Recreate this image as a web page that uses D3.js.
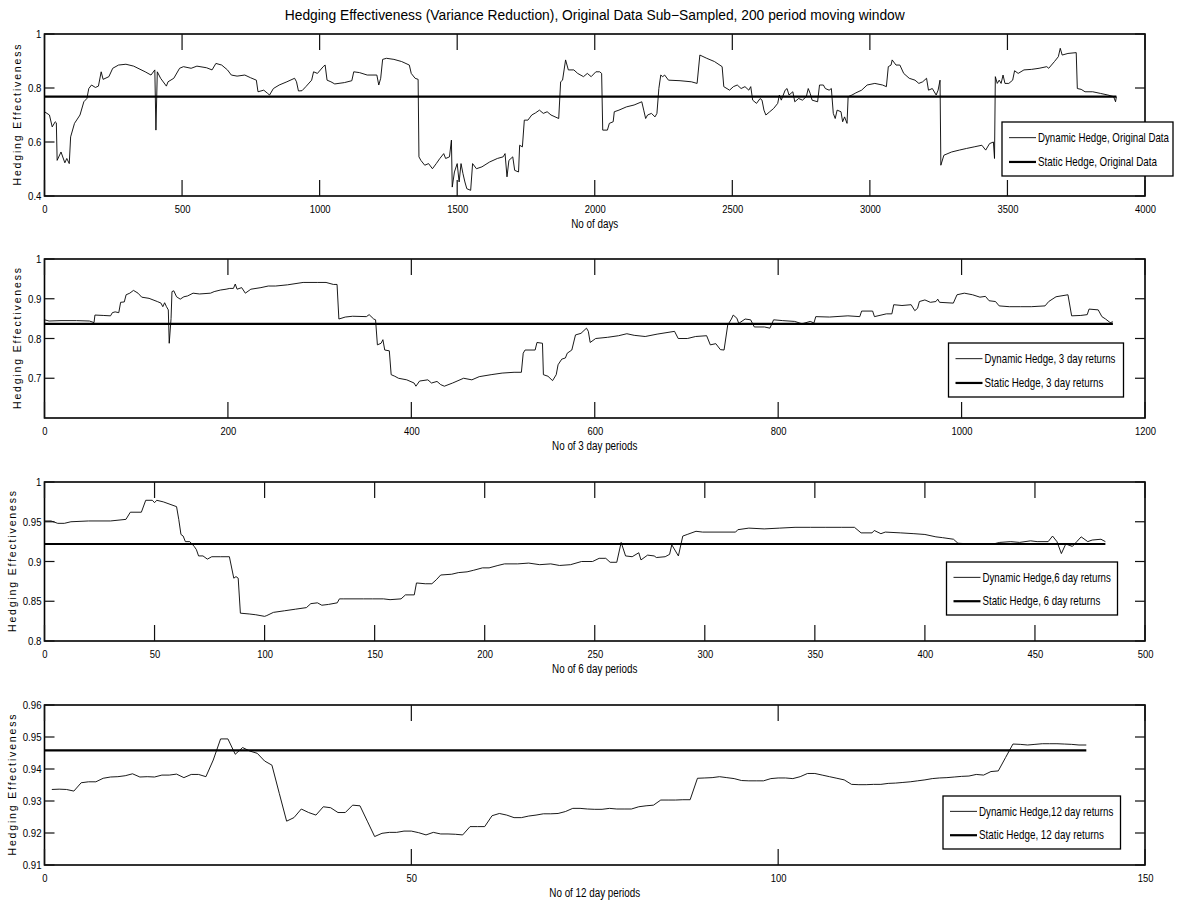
<!DOCTYPE html>
<html>
<head>
<meta charset="utf-8">
<script src="https://cdn.jsdelivr.net/npm/d3@7"></script>
<style>
body { margin: 0; background: #fff; }
svg { display: block; }
text { font-family: "Liberation Sans", Arial, sans-serif; fill: #000; }
</style>
</head>
<body>
<svg id="chart" width="1178" height="903"></svg>
<script>
// ---- data ----
// panel 1 : original data, x = day number
var origDay = [0,18,28,39,43,46,60,74,81,90,95,109,129,143,154,161,171,185,196,206,213,234,248,269,296,324,366,387,401,405,410,422,443,449,470,491,505,533,554,589,609,623,644,665,679,700,728,749,770,776,797,811,818,832,853,881,909,916,923,936,950,971,978,992,1013,1020,1027,1041,1055,1090,1117,1124,1145,1173,1208,1215,1222,1229,1243,1270,1298,1326,1333,1347,1358,1361,1368,1382,1396,1410,1424,1437,1451,1458,1472,1479,1482,1490,1500,1507,1514,1521,1528,1535,1549,1556,1570,1590,1618,1646,1667,1674,1681,1688,1702,1709,1723,1727,1737,1744,1757,1771,1785,1799,1813,1827,1841,1869,1876,1883,1894,1904,1924,1938,1959,1973,1987,2004,2018,2025,2029,2046,2053,2067,2071,2088,2115,2143,2171,2178,2185,2192,2206,2219,2226,2233,2240,2247,2254,2268,2310,2351,2372,2382,2407,2435,2463,2469,2490,2504,2518,2532,2546,2560,2567,2574,2588,2601,2608,2615,2622,2636,2650,2665,2671,2678,2692,2699,2706,2720,2727,2741,2755,2769,2776,2783,2790,2810,2817,2831,2838,2852,2860,2867,2874,2881,2895,2901,2908,2917,2921,2935,2949,2970,2990,3018,3046,3060,3067,3077,3081,3095,3109,3123,3143,3164,3178,3192,3206,3213,3227,3241,3248,3255,3258,3269,3297,3325,3351,3379,3407,3421,3435,3449,3453,3456,3463,3470,3477,3484,3491,3505,3519,3526,3539,3560,3588,3615,3643,3650,3671,3685,3692,3699,3720,3750,3754,3768,3782,3810,3838,3865,3886,3893,3896];
var origHE = [0.712,0.70,0.656,0.675,0.671,0.532,0.563,0.523,0.539,0.52,0.619,0.669,0.70,0.749,0.761,0.798,0.811,0.802,0.807,0.86,0.832,0.842,0.873,0.885,0.888,0.881,0.86,0.848,0.867,0.644,0.86,0.836,0.807,0.823,0.836,0.873,0.879,0.873,0.881,0.875,0.867,0.891,0.885,0.867,0.848,0.844,0.848,0.838,0.829,0.786,0.792,0.78,0.774,0.798,0.811,0.823,0.836,0.823,0.789,0.79,0.805,0.829,0.86,0.854,0.879,0.885,0.829,0.823,0.815,0.82,0.827,0.86,0.857,0.848,0.848,0.811,0.836,0.906,0.91,0.906,0.898,0.885,0.854,0.836,0.832,0.545,0.532,0.514,0.52,0.501,0.52,0.539,0.557,0.539,0.545,0.607,0.433,0.489,0.52,0.452,0.52,0.483,0.452,0.427,0.421,0.52,0.501,0.508,0.526,0.539,0.545,0.557,0.471,0.532,0.545,0.495,0.489,0.588,0.582,0.681,0.681,0.70,0.708,0.718,0.706,0.712,0.70,0.687,0.823,0.829,0.904,0.867,0.867,0.854,0.842,0.854,0.842,0.86,0.86,0.854,0.644,0.644,0.669,0.675,0.712,0.718,0.73,0.737,0.749,0.718,0.687,0.70,0.706,0.693,0.706,0.798,0.848,0.842,0.848,0.829,0.827,0.823,0.817,0.922,0.91,0.898,0.879,0.805,0.792,0.805,0.811,0.798,0.805,0.792,0.805,0.755,0.743,0.761,0.755,0.718,0.70,0.712,0.724,0.743,0.774,0.755,0.792,0.798,0.774,0.786,0.749,0.761,0.755,0.768,0.798,0.78,0.755,0.749,0.811,0.811,0.798,0.792,0.798,0.706,0.687,0.718,0.712,0.675,0.693,0.669,0.768,0.774,0.782,0.792,0.811,0.817,0.811,0.805,0.879,0.885,0.904,0.885,0.885,0.854,0.836,0.829,0.817,0.823,0.836,0.792,0.798,0.774,0.792,0.829,0.514,0.551,0.563,0.57,0.576,0.582,0.588,0.57,0.594,0.60,0.539,0.842,0.817,0.829,0.817,0.848,0.817,0.817,0.829,0.864,0.854,0.867,0.869,0.873,0.879,0.873,0.898,0.916,0.947,0.922,0.928,0.931,0.798,0.795,0.786,0.786,0.78,0.774,0.768,0.749,0.768];

// panel 2 : 3 day returns
var p3Period = [0,5,18,35,49,54,55,64,72,74,77,81,83,87,89,93,97,102,106,114,123,127,129,131,133,135,136,138,139,141,144,148,152,156,162,169,181,185,192,198,202,206,208,210,215,219,225,236,244,252,265,282,298,307,315,319,321,328,336,351,354,359,361,363,367,369,371,376,378,382,386,395,403,405,409,418,422,428,432,436,445,457,466,474,487,499,512,520,522,524,535,537,543,544,549,554,558,560,564,568,570,575,579,585,591,593,595,601,614,626,635,643,655,668,687,691,701,710,722,726,732,737,741,745,749,751,755,757,764,770,774,785,791,795,805,818,826,835,839,841,856,876,889,891,903,905,918,924,926,935,945,949,952,954,960,966,972,974,976,991,995,1003,1012,1020,1026,1030,1037,1041,1052,1064,1076,1091,1095,1103,1116,1120,1130,1137,1139,1149,1153,1157,1162,1165];
var p3HE = [0.847,0.844,0.845,0.845,0.844,0.84,0.859,0.858,0.857,0.865,0.867,0.865,0.891,0.892,0.91,0.914,0.921,0.914,0.904,0.901,0.893,0.889,0.88,0.89,0.88,0.872,0.788,0.85,0.918,0.92,0.905,0.899,0.905,0.907,0.914,0.912,0.914,0.918,0.922,0.924,0.926,0.926,0.937,0.924,0.928,0.914,0.924,0.928,0.932,0.932,0.935,0.941,0.941,0.941,0.936,0.936,0.849,0.854,0.856,0.855,0.86,0.849,0.847,0.784,0.788,0.797,0.771,0.769,0.709,0.705,0.70,0.696,0.688,0.68,0.693,0.696,0.688,0.692,0.684,0.68,0.688,0.70,0.696,0.704,0.709,0.713,0.715,0.715,0.763,0.771,0.771,0.79,0.788,0.709,0.705,0.694,0.709,0.734,0.748,0.751,0.763,0.771,0.809,0.813,0.826,0.818,0.79,0.80,0.803,0.807,0.812,0.808,0.805,0.811,0.818,0.80,0.80,0.805,0.807,0.784,0.787,0.772,0.771,0.834,0.849,0.859,0.851,0.838,0.849,0.847,0.829,0.829,0.826,0.847,0.845,0.843,0.837,0.843,0.839,0.855,0.854,0.857,0.855,0.869,0.869,0.855,0.862,0.862,0.885,0.883,0.885,0.87,0.876,0.893,0.897,0.891,0.893,0.899,0.891,0.889,0.91,0.914,0.91,0.904,0.906,0.895,0.893,0.882,0.88,0.88,0.88,0.882,0.893,0.905,0.91,0.857,0.858,0.86,0.874,0.872,0.855,0.849,0.84,0.842];

// panel 3 : 6 day returns
var p6Period = [0,3,6,9,12,20,30,37,39,44,46,49,50,51,54,60,61,62,63,64,66,68,69,70,72,74,76,80,84,86,87,88,89,93,96,100,101,104,109,114,119,121,124,126,129,133,134,136,145,149,154,157,162,164,168,169,173,176,178,180,185,188,192,195,199,202,206,209,215,220,225,230,234,239,244,249,252,255,257,260,262,264,267,270,271,274,277,278,282,284,285,288,290,292,296,299,306,314,315,320,327,334,341,348,355,362,368,371,376,377,380,382,389,395,400,405,408,413,415,421,426,431,434,439,443,448,451,456,458,460,462,464,467,469,471,474,476,480,482];
var p6HE = [0.951,0.951,0.948,0.948,0.950,0.951,0.951,0.953,0.962,0.962,0.977,0.977,0.974,0.977,0.975,0.969,0.953,0.934,0.932,0.925,0.925,0.919,0.915,0.907,0.907,0.903,0.906,0.906,0.906,0.879,0.881,0.879,0.835,0.834,0.833,0.831,0.832,0.836,0.838,0.84,0.842,0.847,0.848,0.845,0.846,0.848,0.853,0.853,0.853,0.853,0.853,0.852,0.853,0.858,0.858,0.873,0.872,0.872,0.877,0.883,0.884,0.886,0.887,0.889,0.892,0.892,0.895,0.897,0.897,0.898,0.896,0.897,0.895,0.896,0.900,0.900,0.904,0.904,0.899,0.899,0.924,0.907,0.906,0.911,0.902,0.908,0.907,0.905,0.906,0.909,0.921,0.907,0.932,0.934,0.938,0.937,0.937,0.937,0.940,0.942,0.941,0.942,0.943,0.943,0.943,0.943,0.943,0.936,0.936,0.939,0.935,0.937,0.936,0.935,0.934,0.931,0.930,0.928,0.923,0.922,0.922,0.922,0.924,0.925,0.924,0.926,0.925,0.925,0.932,0.925,0.910,0.922,0.919,0.925,0.931,0.925,0.927,0.928,0.925];

// panel 4 : 12 day returns, periods 1..142
var p12HE = [0.9336,0.9337,0.9336,0.9331,0.9357,0.936,0.936,0.9371,0.9375,0.9376,0.9379,0.9385,0.9375,0.9376,0.9375,0.9381,0.9381,0.9384,0.9373,0.9383,
  0.9383,0.9376,0.9428,0.9494,0.9494,0.9446,0.9467,0.9456,0.9449,0.9425,0.9412,0.9324,0.9237,0.9248,0.9275,0.9264,0.9256,0.9282,0.9279,0.9264,
  0.9264,0.9287,0.9285,0.9237,0.9189,0.9199,0.9202,0.9202,0.9206,0.9206,0.9201,0.9194,0.9202,0.9197,0.9197,0.9196,0.9194,0.922,0.922,0.922,
  0.9254,0.9261,0.9256,0.9248,0.9248,0.9253,0.9256,0.926,0.926,0.9261,0.9267,0.9277,0.9277,0.9275,0.9274,0.9274,0.9277,0.9275,0.9275,0.9275,
  0.9282,0.9285,0.9287,0.9303,0.9303,0.9303,0.9304,0.9304,0.9371,0.9372,0.9373,0.9376,0.9373,0.937,0.9364,0.9363,0.9363,0.9363,0.937,0.9372,
  0.9372,0.937,0.9376,0.9386,0.9386,0.9381,0.9376,0.9371,0.9366,0.9352,0.9351,0.9351,0.9352,0.9352,0.9355,0.9356,0.9358,0.936,0.9363,0.9366,
  0.937,0.9372,0.9373,0.9375,0.9377,0.9378,0.9383,0.9381,0.9392,0.9394,0.9436,0.9478,0.9477,0.9475,0.9477,0.9479,0.9479,0.9479,0.9478,0.9477,
  0.9475,0.9475];
var p12Period = p12HE.map(function(d, i) { return i + 1; });

// static hedge levels
var staticHE = [0.768, 0.8367, 0.922, 0.9458];

// ticks and labels
var xTickVals = [d3.range(0, 4001, 500), d3.range(0, 1201, 200), d3.range(0, 501, 50), [0, 50, 100, 150]];
var yTickVals = [[0.4, 0.6, 0.8, 1], [0.7, 0.8, 0.9, 1], [0.8, 0.85, 0.9, 0.95, 1], [0.91, 0.92, 0.93, 0.94, 0.95, 0.96]];
var xDomains = [[0, 4000], [0, 1200], [0, 500], [0, 150]];
var yDomains = [[0.4, 1], [0.6, 1], [0.8, 1], [0.91, 0.96]];
var xTitles = ["No of days", "No of 3 day periods", "No of 6 day periods", "No of 12 day periods"];
var dynNames = ["Dynamic Hedge, Original Data", "Dynamic Hedge, 3 day returns", "Dynamic Hedge,6 day returns", "Dynamic Hedge,12 day returns"];
var statNames = ["Static Hedge, Original Data", "Static Hedge, 3 day returns", "Static Hedge, 6 day returns", "Static Hedge, 12 day returns"];
var chartTitle = "Hedging Effectiveness (Variance Reduction), Original Data Sub\u2212Sampled, 200 period moving window";

// ---- layout ----
var LEFT = 44.5, RIGHT = 1145;
var TOPS = [34, 259, 482, 705];
var BOTTOMS = [196, 418, 641, 865];
var YLAB_X = [21, 21, 15.5, 15.5];
var XTICK = 16, YTICK = 10;
// legend boxes [x, y, w, h] and measured text widths
var LEG = [[1002, 122, 171, 54], [948.5, 343, 175, 54], [946.5, 562, 171, 53], [943, 796, 177.5, 53]];
var LEG_W = [[131, 119], [131, 119], [128.5, 118], [134.5, 125]];

var svg = d3.select("#chart");
svg.append("rect").attr("width", 1178).attr("height", 903).attr("fill", "#fff");

function squeeze(sel, f) {
    sel.each(function() {
	var w = this.getComputedTextLength();
	d3.select(this).attr("textLength", w * f).attr("lengthAdjust", "spacingAndGlyphs");
    });
}

function fmt(d) { return String(+d.toFixed(2)); }

var series = [[origDay, origHE], [p3Period, p3HE], [p6Period, p6HE], [p12Period, p12HE]];

series.forEach(function(s, k) {
    var pTop = TOPS[k], pBot = BOTTOMS[k];
    var x = d3.scaleLinear().domain(xDomains[k]).range([LEFT, RIGHT]);
    var y = d3.scaleLinear().domain(yDomains[k]).range([pBot, pTop]);
    var g = svg.append("g");

    // tick labels from d3 axes
    var gb = g.append("g").attr("transform", "translate(0," + pBot + ")")
	.call(d3.axisBottom(x).tickValues(xTickVals[k]).tickFormat(d3.format("d")).tickSize(0).tickPadding(9));
    var gl = g.append("g").attr("transform", "translate(" + LEFT + ",0)")
	.call(d3.axisLeft(y).tickValues(yTickVals[k]).tickFormat(fmt).tickSize(0).tickPadding(3));
    [gb, gl].forEach(function(a) {
	a.select(".domain").remove();
	a.selectAll(".tick line").remove();
	a.selectAll("text").attr("font-size", 11.5).attr("fill", "#000");
	a.attr("font-family", null);
    });
    squeeze(gb.selectAll("text"), 0.82);
    squeeze(gl.selectAll("text"), 0.84);

    // series
    var xs = s[0], ys = s[1];
    var line = d3.line().x(function(d, i) { return x(xs[i]); }).y(function(d) { return y(d); });
    g.append("path").attr("d", line(ys))
	.attr("fill", "none").attr("stroke", "#000").attr("stroke-width", 0.9).attr("stroke-linejoin", "round");
    g.append("line")
	.attr("x1", x(0)).attr("x2", x(d3.max(xs)))
	.attr("y1", y(staticHE[k])).attr("y2", y(staticHE[k]))
	.attr("stroke", "#000").attr("stroke-width", 2.2);

    // box
    g.append("rect").attr("x", LEFT).attr("y", pTop).attr("width", RIGHT - LEFT).attr("height", pBot - pTop)
	.attr("fill", "none").attr("stroke", "#000").attr("stroke-width", 1.6);

    // inward tick marks on all four sides, one rect each
    var marks = [];
    xTickVals[k].forEach(function(v) {
	marks.push([x(v) - 0.6, pBot - XTICK, 1.2, XTICK]);
	marks.push([x(v) - 0.6, pTop, 1.2, XTICK]);
    });
    yTickVals[k].forEach(function(v) {
	marks.push([LEFT, y(v) - 0.6, YTICK, 1.2]);
	marks.push([RIGHT - YTICK, y(v) - 0.6, YTICK, 1.2]);
    });
    g.append("g").selectAll("rect").data(marks).enter().append("rect")
	.attr("x", function(d) { return d[0]; }).attr("y", function(d) { return d[1]; })
	.attr("width", function(d) { return d[2]; }).attr("height", function(d) { return d[3]; })
	.attr("fill", "#111");

    // axis titles
    var xt = g.append("text").attr("x", (LEFT + RIGHT) / 2).attr("y", pBot + 31.5)
	.attr("text-anchor", "middle").attr("font-size", 12).text(xTitles[k]);
    squeeze(xt, 0.82);
    g.append("text")
	.attr("transform", "translate(" + YLAB_X[k] + "," + ((pTop + pBot) / 2) + ") rotate(-90)")
	.attr("text-anchor", "middle").attr("font-size", 10.5)
	.attr("textLength", 141).attr("lengthAdjust", "spacing")
	.text("Hedging Effectiveness");

    // legend
    var L = LEG[k];
    var lg = g.append("g").attr("transform", "translate(" + L[0] + "," + L[1] + ")");
    lg.append("rect").attr("width", L[2]).attr("height", L[3])
	.attr("fill", "#fff").attr("stroke", "#000").attr("stroke-width", 1.3);
    var rows = [[dynNames[k], 0.9, LEG_W[k][0]], [statNames[k], 2.2, LEG_W[k][1]]];
    rows.forEach(function(r, i) {
	var yy = L[3] * (i === 0 ? 0.29 : 0.74);
	lg.append("line").attr("x1", 7).attr("x2", 34).attr("y1", yy).attr("y2", yy)
	    .attr("stroke", "#000").attr("stroke-width", r[1]);
	// condensed face: scale the text horizontally to the width seen in the picture
	var t = lg.append("text").attr("dy", "0.35em").attr("font-size", 12).text(r[0]);
	var f = r[2] / t.node().getComputedTextLength();
	t.attr("transform", "translate(36," + yy + ") scale(" + f + ",1)");
    });
});

// title
svg.append("text").attr("x", (LEFT + RIGHT) / 2).attr("y", 20)
    .attr("text-anchor", "middle").attr("font-size", 14)
    .attr("textLength", 620).attr("lengthAdjust", "spacingAndGlyphs")
    .text(chartTitle);
</script>
</body>
</html>
